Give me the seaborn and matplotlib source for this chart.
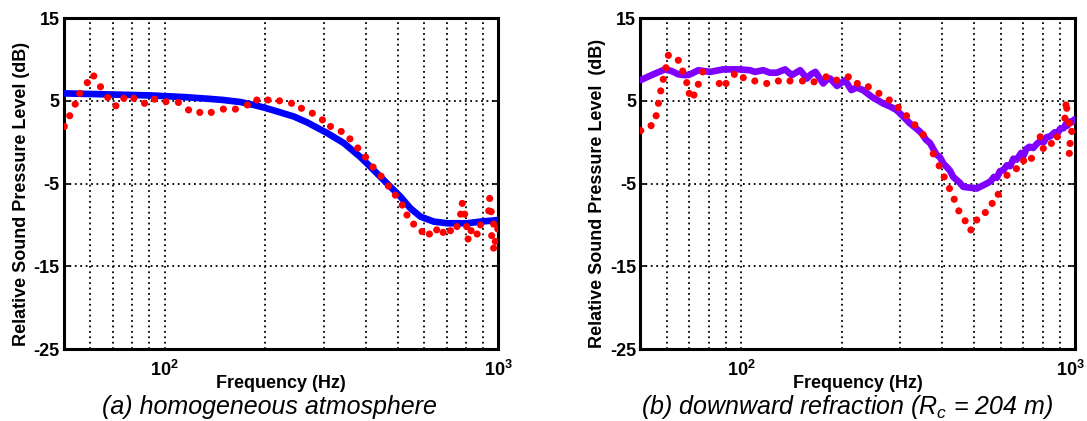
import matplotlib
matplotlib.use("Agg")
import matplotlib.pyplot as plt
import matplotlib.transforms as mtransforms
import seaborn as sns
from matplotlib.ticker import FixedLocator, FixedFormatter, NullFormatter, LogLocator

# ---------------- data ----------------
# (a) homogeneous atmosphere: measured (red dots)
freq_a_meas = [50.1, 52.0, 54.0, 55.7, 58.7, 61.4, 64.3, 67.6, 71.5, 75.5, 80.9, 87.1, 93.3,
               101, 110, 118, 127.5, 138, 150, 163, 177, 189, 204, 221, 240, 257, 277, 297,
               314, 338, 359, 379, 400, 421, 445, 468, 491, 515, 532, 557, 590, 621, 653,
               683, 718, 751, 770, 779, 792, 803, 811, 828, 863, 883, 935, 941, 951, 954,
               967, 967, 978, 995]
db_a_meas = [1.9, 3.2, 4.6, 5.9, 7.2, 8.0, 6.7, 5.4, 4.4, 5.3, 5.3, 4.7, 5.2,
             4.9, 4.8, 3.9, 3.6, 3.6, 4.0, 4.0, 4.5, 5.1, 5.1, 5.0, 4.7, 4.1, 3.5, 2.7,
             1.9, 1.3, 0.4, -0.7, -1.8, -3.0, -4.1, -5.3, -6.4, -7.6, -8.8, -9.9, -10.8, -11.1, -10.6,
             -10.9, -10.7, -10.2, -8.7, -7.4, -8.7, -10.2, -11.7, -10.7, -11.1, -10.0, -8.3, -6.8, -8.4, -11.3,
             -9.9, -12.8, -12.0, -10.5]
# (a) model (blue line)
freq_a_model = [50, 64, 91, 115, 135, 150, 169, 185, 200, 218, 244, 267, 307, 344, 386, 414,
                464, 509, 545, 584, 640, 702, 806, 883, 946, 1000]
db_a_model = [5.9, 5.8, 5.65, 5.45, 5.25, 5.1, 4.85, 4.5, 4.15, 3.7, 3.1, 2.4, 1.1, -0.1,
              -1.8, -3.0, -5.0, -6.6, -8.0, -9.0, -9.6, -9.8, -9.8, -9.6, -9.5, -9.4]

# (b) downward refraction: measured (red dots)
freq_b_meas = [50.1, 53.8, 55.7, 56.6, 57.5, 58.5, 59.6, 60.6, 64.9, 66.9, 68.8, 70.0, 72.3,
               74.5, 76.8, 86.1, 90.2, 95.5, 101.6, 110, 119.4, 129.4, 140.2, 152.8, 165.5,
               179.8, 193.4, 209.6, 223, 240.6, 258.9, 278, 295.7, 313.2, 331.6, 351.3, 376.5,
               392, 406, 421, 435, 449, 469, 488, 508, 539, 565, 589, 626, 668, 702, 741,
               787, 804, 850, 886, 933, 940, 945, 962, 962, 967, 978]
db_b_meas = [1.4, 2.0, 3.2, 4.7, 6.2, 7.6, 9.0, 10.5, 9.9, 8.6, 7.2, 5.9, 5.7,
             7.0, 8.5, 7.1, 7.1, 8.2, 7.8, 7.4, 7.1, 7.4, 7.4, 7.4, 7.3,
             7.9, 7.5, 7.9, 7.1, 6.7, 5.9, 5.1, 4.2, 3.2, 2.1, 0.9, -1.4,
             -2.85, -4.2, -5.6, -6.9, -8.3, -9.5, -10.6, -9.4, -8.5, -7.4, -6.3, -4.0, -3.2, -2.25, -1.95,
             0.65, -0.75, -0.15, 0.65, 2.9, 4.5, 4.1, 2.3, -1.35, -0.15, 1.3]
# (b) model (purple line)
freq_b_model = [50, 54.6, 59.2, 62, 64.9, 68, 70.4, 74.5, 80.8, 88.5, 99.3, 106.4, 110, 116.6,
                122, 128, 135.5, 141.9, 146, 150.4, 157.5, 162, 167.1, 176.3, 180, 184.9,
                193.9, 205, 214, 222, 232, 246, 266, 280, 292, 306, 320, 334, 347, 358, 368,
                385, 394, 404, 422, 432, 452, 463, 485, 508, 532, 544, 560, 572, 584, 596,
                610, 625, 640, 654, 670, 690, 702, 716, 731, 750, 769, 790, 806, 822, 843,
                870, 885, 902, 925, 940, 950, 965, 978, 1000]
db_b_model = [7.5, 8.2, 8.8, 8.6, 8.2, 8.1, 8.2, 8.7, 8.5, 8.8, 8.8, 8.7, 8.5, 8.7,
              8.4, 8.4, 8.8, 8.1, 8.4, 8.7, 7.7, 8.2, 8.5, 7.1, 7.5, 7.7,
              6.8, 7.5, 6.3, 6.6, 6.3, 5.5, 4.7, 4.3, 3.9, 3.1, 2.3, 1.7, 1.1, 0.3, -0.1,
              -1.5, -1.8, -2.6, -3.4, -4.2, -4.9, -5.4, -5.5, -5.6, -5.2, -5.0, -4.7, -4.2, -4.3, -3.5,
              -3.4, -2.8, -2.9, -2.0, -2.1, -1.3, -1.6, -0.8, -0.55, -0.7, -0.2, 0.2, 0.0, 0.6, 0.7,
              1.2, 1.0, 1.6, 1.7, 2.2, 2.0, 2.5, 2.4, 2.8]

y_ticks = [-25, -15, -5, 5, 15]
x_major = [100, 1000]
x_major_labels = [r'$\mathbf{10^{2}}$', r'$\mathbf{10^{3}}$']
ylabels = ['Relative Sound Pressure Level (dB)', 'Relative Sound Pressure Level  (dB)']
captions = ['(a) homogeneous atmosphere', r'(b) downward refraction ($R_c$ = 204 m)']

# ---------------- style ----------------
sns.set_theme(style="white")
plt.rcParams['font.family'] = ['Liberation Sans', 'DejaVu Sans']
plt.rcParams['mathtext.fontset'] = 'custom'
plt.rcParams['mathtext.rm'] = 'Liberation Sans'
plt.rcParams['mathtext.bf'] = 'Liberation Sans:bold'
plt.rcParams['mathtext.it'] = 'Liberation Sans:italic'
for k in ['text.color', 'axes.labelcolor', 'xtick.color', 'ytick.color', 'axes.edgecolor']:
    plt.rcParams[k] = 'black'

fig = plt.figure(figsize=(10.87, 4.21), dpi=100)
ax_a = fig.add_axes([0.0589, 0.171, 0.3997, 0.786])
ax_b = fig.add_axes([0.5892, 0.171, 0.3997, 0.786])

panels = [
    (ax_a, freq_a_meas, db_a_meas, freq_a_model, db_a_model, '#0000FF'),
    (ax_b, freq_b_meas, db_b_meas, freq_b_model, db_b_model, '#7F00FF'),
]

for i, (ax, fm, dm, fmod, dmod, lc) in enumerate(panels):
    ax.set_xscale('log')
    ax.set_xlim(50, 1000)
    ax.set_ylim(-25, 15)
    ax.grid(True, which='both', axis='x', color='black', linestyle=(0, (1, 2)), linewidth=1.3)
    ax.grid(True, which='major', axis='y', color='black', linestyle=(0, (1, 2)), linewidth=1.3)
    ax.set_axisbelow(True)
    sns.lineplot(x=fmod, y=dmod, ax=ax, color=lc, linewidth=4.8, zorder=3)
    sns.scatterplot(x=fm, y=dm, ax=ax, color='#FF0000', s=26, edgecolor='none', zorder=4)
    ax.set_yticks(y_ticks)
    ax.set_yticklabels([str(v) for v in y_ticks], fontsize=13, fontweight='bold')
    ax.xaxis.set_major_locator(FixedLocator(x_major))
    ax.xaxis.set_major_formatter(FixedFormatter(x_major_labels))
    ax.xaxis.set_minor_locator(LogLocator(base=10, subs=[2, 3, 4, 5, 6, 7, 8, 9], numticks=20))
    ax.xaxis.set_minor_formatter(NullFormatter())
    ax.tick_params(axis='x', which='major', labelsize=13, pad=8, length=0)
    ax.tick_params(axis='x', which='minor', length=0)
    ax.tick_params(axis='y', which='major', direction='in', length=4, width=1.2,
                   left=True, right=True, pad=3)
    for s in ax.spines.values():
        s.set_color('black')
        s.set_linewidth(2.2)
    ax.set_xlabel('Frequency (Hz)', fontsize=13, fontweight='bold')
    ax.xaxis.set_label_coords(0.5, -0.103)
    ax.xaxis.label.set_va('center')
    ax.set_ylabel(ylabels[i], fontsize=13, fontweight='bold')
    ax.yaxis.set_label_coords(-0.098, 0.47)
    ax.yaxis.label.set_va('center')

# keep the last tick label of panel (b) inside the figure
fig.canvas.draw()
lab = ax_b.get_xticklabels()[-1]
lab.set_transform(lab.get_transform() + mtransforms.ScaledTranslation(-3 / 72, 0, fig.dpi_scale_trans))

fig.text(269 / 1087, 1 - 407 / 421, captions[0], ha='center', va='center',
         fontsize=18, style='italic')
fig.text(847 / 1087, 1 - 407 / 421, captions[1], ha='center', va='center',
         fontsize=18, style='italic')

fig.savefig('out.png', dpi=100)
